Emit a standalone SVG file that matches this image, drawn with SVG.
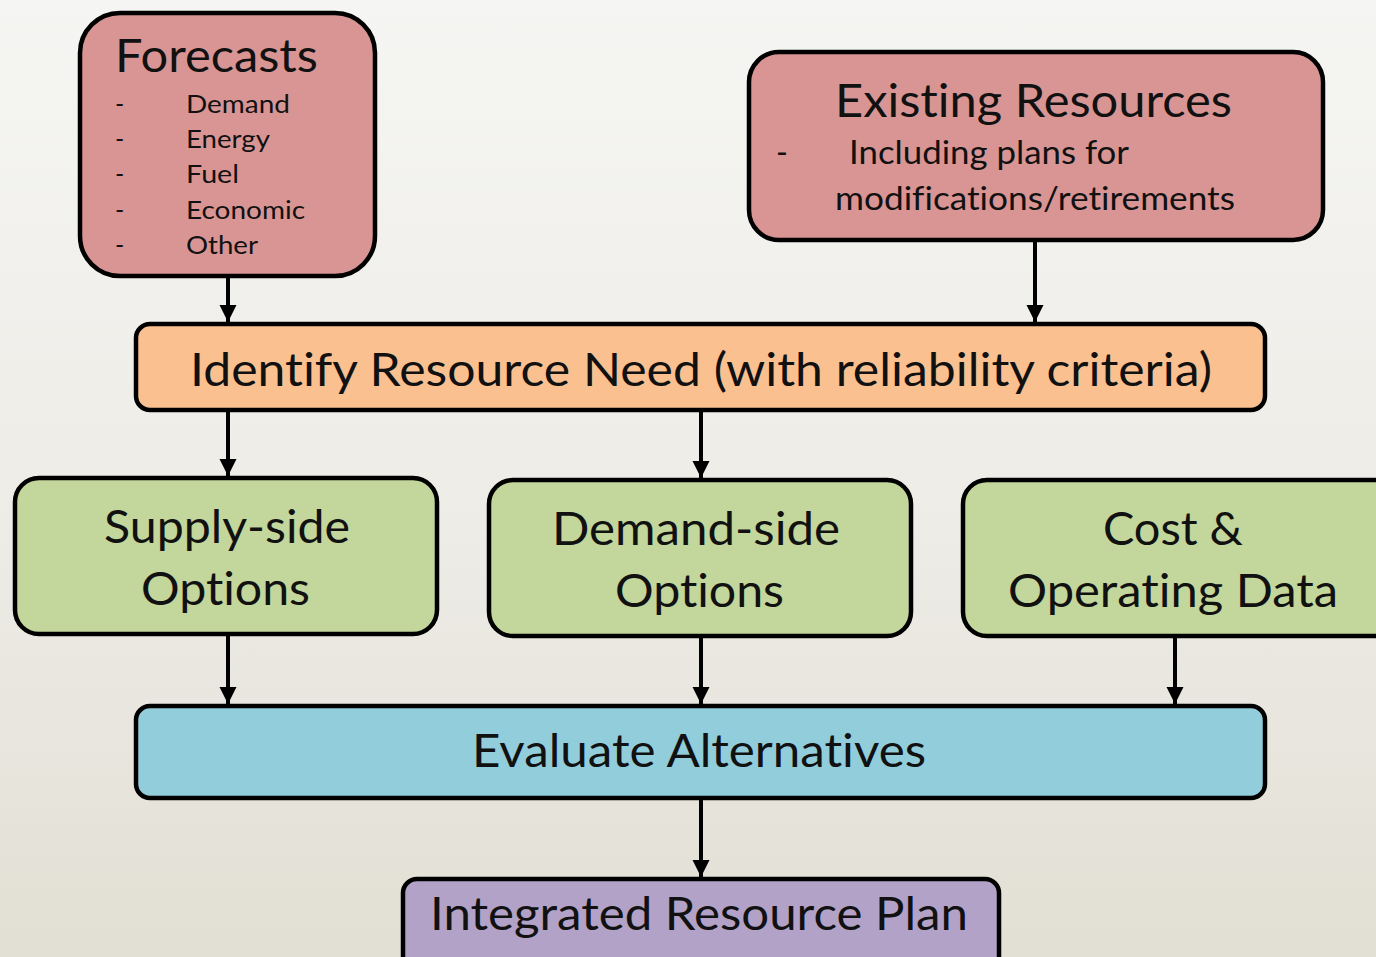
<svg xmlns="http://www.w3.org/2000/svg" width="1376" height="957" viewBox="0 0 1376 957">
<defs>
<linearGradient id="bg" x1="0" y1="0" x2="0" y2="1">
<stop offset="0" stop-color="#F5F5F3"/>
<stop offset="0.5" stop-color="#EEEDE8"/>
<stop offset="1" stop-color="#E2DFD4"/>
</linearGradient>
<marker id="arr" viewBox="0 0 10 10" refX="10" refY="5" markerWidth="4.3" markerHeight="4.3" markerUnits="strokeWidth" orient="auto">
<path d="M0,0 L10,5 L0,10 z" fill="#000"/>
</marker>
</defs>
<style>
.box{stroke:#000;stroke-width:4.5}
.red{fill:#D99594}
.org{fill:#FAC090}
.grn{fill:#C3D69B}
.blu{fill:#92CDDC}
.pur{fill:#B3A2C7}
text{font-family:Lato,"Open Sans","Liberation Sans",sans-serif;fill:#111;font-variant-ligatures:none;font-feature-settings:"liga" 0,"clig" 0}
.big{font-size:46px}
.mid{font-size:32px}
.sm{font-size:25px}
.conn line{stroke:#000;stroke-width:4;marker-end:url(#arr)}
</style>
<rect width="1376" height="957" fill="url(#bg)"/>

<g id="forecasts">
<rect class="box red" x="80" y="13" width="295" height="263" rx="40"/>
<text class="big" x="115" y="72" textLength="203" lengthAdjust="spacingAndGlyphs">Forecasts</text>
<text class="sm" x="115" y="113">-</text>
<text class="sm" x="186" y="113" textLength="104" lengthAdjust="spacingAndGlyphs">Demand</text>
<text class="sm" x="115" y="148">-</text>
<text class="sm" x="186" y="148" textLength="84" lengthAdjust="spacingAndGlyphs">Energy</text>
<text class="sm" x="115" y="183">-</text>
<text class="sm" x="186" y="183" textLength="53" lengthAdjust="spacingAndGlyphs">Fuel</text>
<text class="sm" x="115" y="219">-</text>
<text class="sm" x="186" y="219" textLength="119" lengthAdjust="spacingAndGlyphs">Economic</text>
<text class="sm" x="115" y="254">-</text>
<text class="sm" x="186" y="254" textLength="72" lengthAdjust="spacingAndGlyphs">Other</text>
</g>

<g id="existing">
<rect class="box red" x="749" y="52" width="574" height="188" rx="30"/>
<text class="big" x="835" y="117" textLength="397" lengthAdjust="spacingAndGlyphs">Existing Resources</text>
<text class="mid" x="776" y="164">-</text>
<text class="mid" x="849" y="164" textLength="280" lengthAdjust="spacingAndGlyphs">Including plans for</text>
<text class="mid" x="835" y="210" textLength="400" lengthAdjust="spacingAndGlyphs">modifications/retirements</text>
</g>

<g id="identify">
<rect class="box org" x="136" y="324" width="1129" height="86" rx="14"/>
<text class="big" x="190" y="386" textLength="1022" lengthAdjust="spacingAndGlyphs">Identify Resource Need (with reliability criteria)</text>
</g>

<g id="supply">
<rect class="box grn" x="15" y="478" width="422" height="156" rx="24"/>
<text class="big" x="104" y="543" textLength="246" lengthAdjust="spacingAndGlyphs">Supply-side</text>
<text class="big" x="141" y="605" textLength="169" lengthAdjust="spacingAndGlyphs">Options</text>
</g>

<g id="demand">
<rect class="box grn" x="489" y="480" width="422" height="156" rx="24"/>
<text class="big" x="552" y="545" textLength="288" lengthAdjust="spacingAndGlyphs">Demand-side</text>
<text class="big" x="615" y="607" textLength="169" lengthAdjust="spacingAndGlyphs">Options</text>
</g>

<g id="cost">
<rect class="box grn" x="963" y="480" width="440" height="156" rx="24"/>
<text class="big" x="1103" y="545" textLength="140" lengthAdjust="spacingAndGlyphs">Cost &amp;</text>
<text class="big" x="1008" y="607" textLength="330" lengthAdjust="spacingAndGlyphs">Operating Data</text>
</g>

<g id="evaluate">
<rect class="box blu" x="136" y="706" width="1129" height="92" rx="14"/>
<text class="big" x="472" y="767" textLength="454" lengthAdjust="spacingAndGlyphs">Evaluate Alternatives</text>
</g>

<g id="irp">
<rect class="box pur" x="403" y="879" width="596" height="100" rx="14"/>
<text class="big" x="430" y="930" textLength="538" lengthAdjust="spacingAndGlyphs">Integrated Resource Plan</text>
</g>

<g id="connectors" class="conn">
<line x1="228" y1="278" x2="228" y2="322"/>
<line x1="1035" y1="242" x2="1035" y2="322"/>
<line x1="228" y1="412" x2="228" y2="476"/>
<line x1="701" y1="412" x2="701" y2="478"/>
<line x1="228" y1="636" x2="228" y2="704"/>
<line x1="701" y1="638" x2="701" y2="704"/>
<line x1="1175" y1="638" x2="1175" y2="704"/>
<line x1="701" y1="800" x2="701" y2="877"/>
</g>
</svg>
